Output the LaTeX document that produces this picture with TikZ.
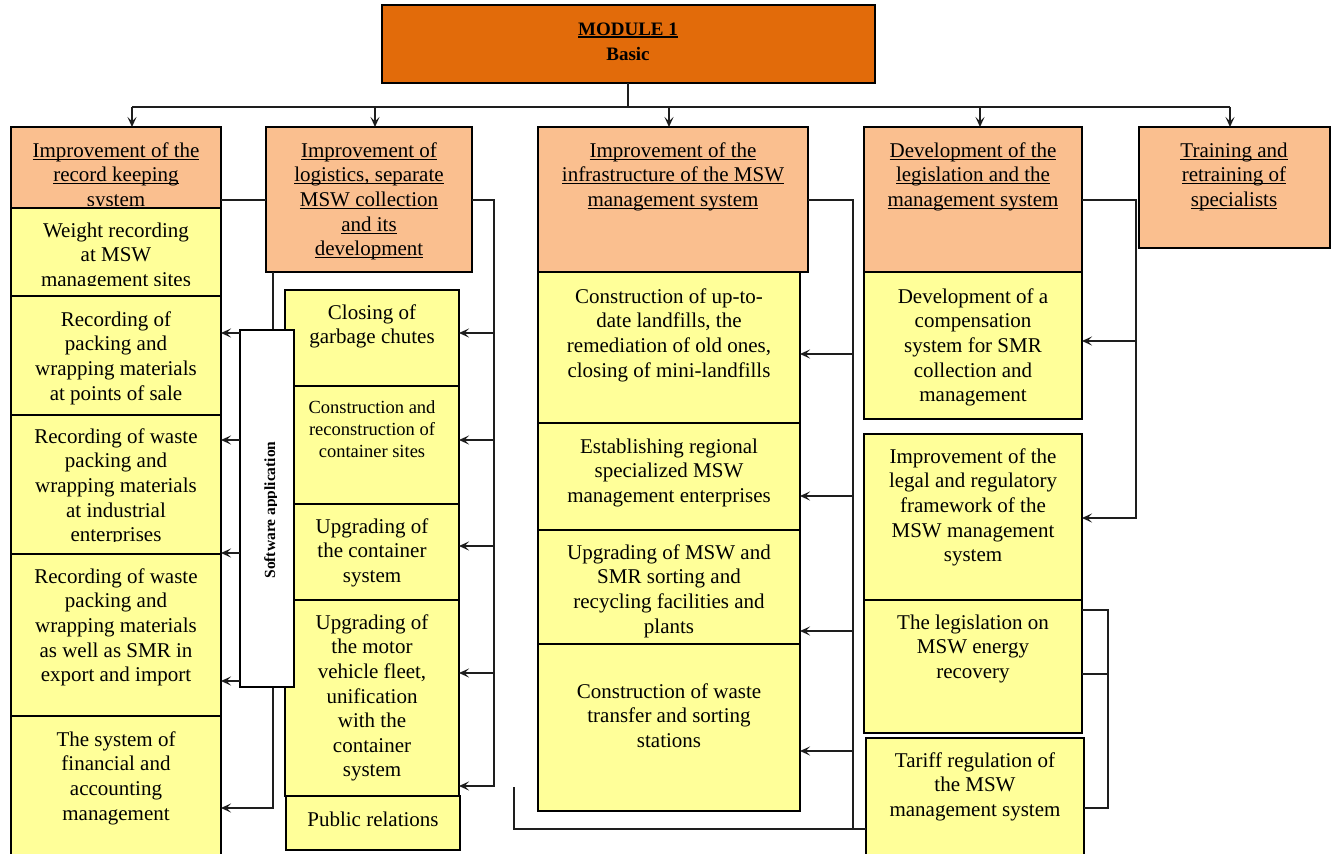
\documentclass[tikz,border=0pt]{standalone}
\usepackage{fontspec}
\setmainfont{Liberation Serif}
\usetikzlibrary{arrows.meta}
\definecolor{modc}{HTML}{E26B0A}
\definecolor{peach}{HTML}{FABF8F}
\definecolor{yel}{HTML}{FFFF99}
\definecolor{ln}{HTML}{1E1E1E}
\newsavebox\ulbox
\newcommand\uln[2][1.1pt]{\sbox\ulbox{#2}\rlap{\rule[-2.6pt]{\wd\ulbox}{#1}}\usebox\ulbox}
\tikzset{
 bx/.style={draw=black, line width=1.8pt, inner sep=0pt, outer sep=0pt, anchor=north west},
 hdr/.style={bx, fill=peach},
 ybox/.style={bx, fill=yel},
 txt/.style={inner sep=0pt, align=center, anchor=north, font=\fontsize{21}{24.6}\selectfont},
 smalltxt/.style={txt, font=\fontsize{18.5}{22}\selectfont},
 conn/.style={draw=ln, line width=1.7pt},
 arr/.style={conn, -{Stealth[length=10pt,width=9pt,inset=4.5pt]}},
}
\newcommand\bxat[6]{\node[#1, minimum width={#4-#2}, minimum height={#5-#3}] (#6) at (#2,#3) {};}
\newcommand\tx[4]{\node[txt] (#1) at (#2,#3-17.22) {\strut #4};}
\begin{document}
\begin{tikzpicture}[x=1pt,y=-1pt]
\clip (0,0) rectangle (1334,854);
\fill[white] (0,0) rectangle (1334,854);
% ---------- boxes ----------
\bxat{bx, fill=modc}{382}{5}{875}{83}{mod}
\bxat{hdr}{11}{127}{221}{208}{h1}
\bxat{hdr}{266}{127}{472}{272}{h2}
\bxat{hdr}{538}{127}{808}{272}{h3}
\bxat{hdr}{864}{127}{1082}{272}{h4}
\bxat{hdr}{1139}{127}{1330}{248}{h5}
% left column
\bxat{ybox}{11}{208}{221}{296}{L1}
\bxat{ybox}{11}{296}{221}{415}{L2}
\bxat{ybox}{11}{415}{221}{554}{L3}
\bxat{ybox}{11}{554}{221}{716}{L4}
\bxat{ybox}{11}{716}{221}{880}{L5}
% second column
\bxat{ybox}{285}{290}{459}{386}{B1}
\bxat{ybox}{285}{386}{459}{504}{B2}
\bxat{ybox}{285}{504}{459}{600}{B3}
\bxat{ybox}{285}{600}{459}{796}{B4}
\bxat{ybox}{286}{796}{460}{850}{B5}
% third column
\bxat{ybox}{538}{272}{800}{423}{C1}
\bxat{ybox}{538}{423}{800}{530}{C2}
\bxat{ybox}{538}{530}{800}{644}{C3}
\bxat{ybox}{538}{644}{800}{811}{C4}
% fourth column
\bxat{ybox}{864}{272}{1082}{419}{D1}
\bxat{ybox}{864}{434}{1082}{600}{D2}
\bxat{ybox}{864}{600}{1082}{733}{D3}
\bxat{ybox}{866}{738}{1084}{880}{D4}
% ---------- connectors ----------
\coordinate (bus) at (628,107);
\coordinate (a1) at (132,107);
\coordinate (a2) at (375,107);
\coordinate (a3) at (669,107);
\coordinate (a4) at (980,107);
\coordinate (a5) at (1230,107);
\draw[conn] (mod.south -| bus) -- (bus);
\draw[conn] (a1) -- (a5);
\draw[arr] (a1) -- (a1 |- h1.north);
\draw[arr] (a2) -- (a2 |- h2.north);
\draw[arr] (a3) -- (a3 |- h3.north);
\draw[arr] (a4) -- (a4 |- h4.north);
\draw[arr] (a5) -- (a5 |- h5.north);
% column 1 feed (behind software box)
\coordinate (c1) at (273,200);
\draw[conn] (h1.east |- c1) -- (h2.west |- c1);
\draw[arr] (h2.south -| c1) -- (c1 |- 0,808) -- (L5.east |- 0,808);
% software application box
\bxat{bx, fill=white}{240}{330}{294}{687}{sw}
\begin{scope}
\clip (240,330) rectangle (276,687);
\node[rotate=90, anchor=base, inner sep=0pt, font=\bfseries\fontsize{15.5}{18}\selectfont] (swt) at (275,510) {Software application};
\end{scope}
\draw[arr] (sw.west |- 0,333) -- (L2.east |- 0,333);
\draw[arr] (sw.west |- 0,440) -- (L3.east |- 0,440);
\draw[arr] (sw.west |- 0,553) -- (L3.east |- 0,553);
\draw[arr] (sw.west |- 0,681) -- (L4.east |- 0,681);
% column 2
\coordinate (c2) at (494,200);
\draw[arr] (h2.east |- c2) -- (c2) -- (c2 |- 0,786) -- (B4.east |- 0,786);
\draw[arr] (c2 |- 0,333) -- (B1.east |- 0,333);
\draw[arr] (c2 |- 0,440) -- (B2.east |- 0,440);
\draw[arr] (c2 |- 0,546) -- (B3.east |- 0,546);
\draw[arr] (c2 |- 0,673) -- (B4.east |- 0,673);
% column 3
\coordinate (c3) at (853,200);
\draw[conn] (h3.east |- c3) -- (c3) -- (c3 |- 0,829);
\draw[arr] (c3 |- 0,354) -- (C1.east |- 0,354);
\draw[arr] (c3 |- 0,496) -- (C2.east |- 0,496);
\draw[arr] (c3 |- 0,631) -- (C3.east |- 0,631);
\draw[arr] (c3 |- 0,751) -- (C4.east |- 0,751);
\coordinate (s3) at (514,787);
\draw[conn] (s3) -- (s3 |- 0,829) -- (D4.west |- 0,829);
% column 4
\coordinate (c4) at (1136,200);
\draw[arr] (h4.east |- c4) -- (c4) -- (c4 |- 0,518) -- (D2.east |- 0,518);
\draw[arr] (c4 |- 0,341) -- (D1.east |- 0,341);
\coordinate (k) at (1108,610);
\draw[conn] (D3.east |- k) -- (k) -- (k |- 0,808) -- (D4.east |- 0,808);
\draw[conn] (D3.east |- 0,674) -- (k |- 0,674);
% ---------- texts ----------
\node[txt, font=\bfseries\fontsize{19}{25}\selectfont] (tm) at (628,35-17.5) {\strut\uln[1.6pt]{MODULE 1}\\Basic};
\begin{scope}
\clip (11,127) rectangle (221,205);
\tx{th1}{116}{157}{\uln{Improvement of the}\\\uln{record keeping}\\\uln{system}}
\end{scope}
\tx{th2}{369}{157}{\uln{Improvement of}\\\uln{logistics, separate}\\\uln{MSW collection}\\\uln{and its}\\\uln{development}}
\tx{th3}{673}{157}{\uln{Improvement of the}\\\uln{infrastructure of the MSW}\\\uln{management system}}
\tx{th4}{973}{157}{\uln{Development of the}\\\uln{legislation and the}\\\uln{management system}}
\tx{th5}{1234}{157}{\uln{Training and}\\\uln{retraining of}\\\uln{specialists}}
\begin{scope}
\clip (11,208) rectangle (221,285);
\tx{tL1}{116}{237}{Weight recording\\at MSW\\management sites}
\end{scope}
\tx{tL2}{116}{326}{Recording of\\packing and\\wrapping materials\\at points of sale}
\begin{scope}
\clip (11,415) rectangle (221,541);
\tx{tL3}{116}{443}{Recording of waste\\packing and\\wrapping materials\\at industrial\\enterprises}
\end{scope}
\tx{tL4}{116}{583}{Recording of waste\\packing and\\wrapping materials\\as well as SMR in\\export and import}
\tx{tL5}{116}{746}{The system of\\financial and\\accounting\\management}
\tx{tB1}{372}{319}{Closing of\\garbage chutes}
\node[smalltxt] (tB2) at (372,413-15.4) {\strut Construction and\\reconstruction of\\container sites};
\tx{tB3}{372}{533}{Upgrading of\\the container\\system}
\tx{tB4}{372}{629}{Upgrading of\\the motor\\vehicle fleet,\\unification\\with the\\container\\system}
\tx{tB5}{373}{826}{Public relations}
\tx{tC1}{669}{303}{Construction of up-to-\\date landfills, the\\remediation of old ones,\\closing of mini-landfills}
\tx{tC2}{669}{453}{Establishing regional\\specialized MSW\\management enterprises}
\tx{tC3}{669}{559}{Upgrading of MSW and\\SMR sorting and\\recycling facilities and\\plants}
\tx{tC4}{669}{698}{Construction of waste\\transfer and sorting\\stations}
\tx{tD1}{973}{303}{Development of a\\compensation\\system for SMR\\collection and\\management}
\tx{tD2}{973}{463}{Improvement of the\\legal and regulatory\\framework of the\\MSW management\\system}
\tx{tD3}{973}{629}{The legislation on\\MSW energy\\recovery}
\tx{tD4}{975}{767}{Tariff regulation of\\the MSW\\management system}
\end{tikzpicture}
\end{document}
